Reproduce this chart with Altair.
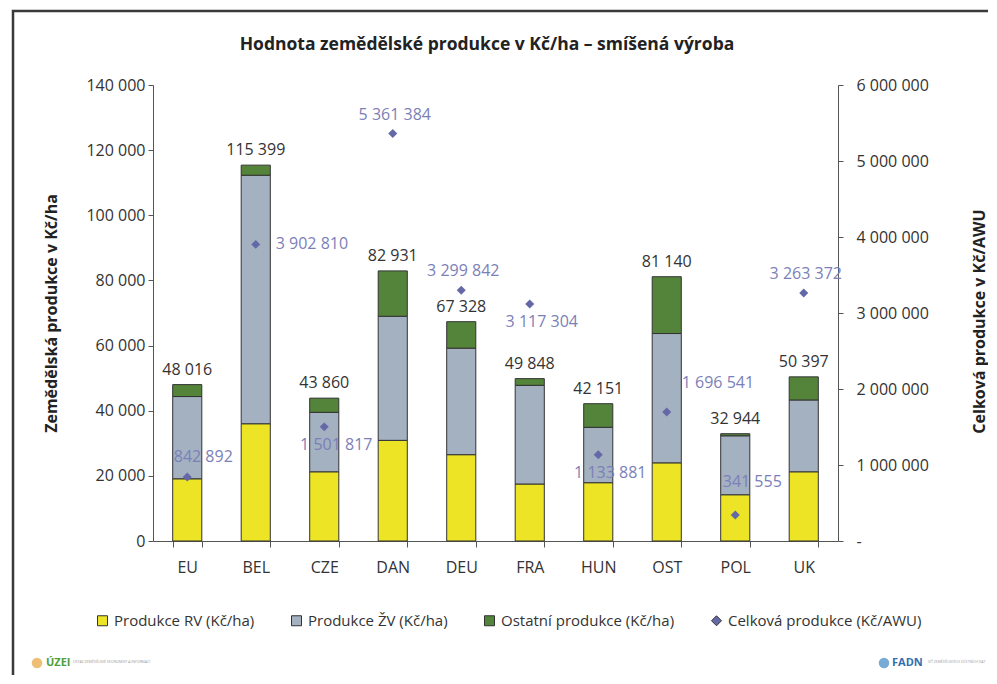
import altair as alt
import pandas as pd

# ---- data ----
countries = ["EU", "BEL", "CZE", "DAN", "DEU", "FRA", "HUN", "OST", "POL", "UK"]
prod_rv = [19100, 36000, 21250, 30900, 26500, 17500, 17900, 24000, 14200, 21250]
prod_zv = [25250, 76300, 18250, 38100, 32700, 30300, 17000, 39700, 18100, 22050]
prod_other = [3666, 3099, 4360, 13931, 8128, 2048, 7251, 17440, 644, 7097]
totals = [48016, 115399, 43860, 82931, 67328, 49848, 42151, 81140, 32944, 50397]
awu_total = [842892, 3902810, 1501817, 5361384, 3299842, 3117304, 1133881, 1696541, 341555, 3263372]
label_place = ["aboveright", "right", "below", "above", "above", "below", "below", "upright", "highright", "above"]

series_names = ["Produkce RV (Kč/ha)", "Produkce ŽV (Kč/ha)", "Ostatní produkce (Kč/ha)", "Celková produkce (Kč/AWU)"]
series_colors = ["#ECE424", "#A3B1C1", "#53843A", "#6468A6"]
series_shapes = ["square", "square", "square", "diamond"]
title_text = "Hodnota zemědělské produkce v Kč/ha – smíšená výroba"

# ---- tables ----
rows = []
for i, c in enumerate(countries):
    for k, vals in enumerate([prod_rv, prod_zv, prod_other]):
        rows.append({"country": c, "series": series_names[k], "value": vals[i], "order": k})
bar_df = pd.DataFrame(rows)
tot_df = pd.DataFrame({"country": countries, "total": totals})
pt_df = pd.DataFrame({"country": countries, "awu": awu_total, "place": label_place,
                      "series": [series_names[3]] * len(countries)})

W, H = 685, 456
FONT = "Open Sans"

x_enc = alt.X("country:N", sort=countries,
              scale=alt.Scale(paddingInner=0.575, paddingOuter=0.2875),
              axis=alt.Axis(title=None, labelAngle=0, tickBand="extent", tickSize=6,
                            labelPadding=12, labelFontSize=16, labelColor="#333",
                            domainColor="#555", tickColor="#555"))

color_scale = alt.Scale(domain=series_names, range=series_colors)
shape_scale = alt.Scale(domain=series_names, range=series_shapes)
legend = alt.Legend(orient="none", legendX=-58, legendY=528, direction="horizontal",
                    columns=4, title=None, labelFontSize=15, labelColor="#333",
                    labelFont=FONT, symbolSize=100, symbolStrokeColor="#333",
                    symbolStrokeWidth=1, columnPadding=34, labelOffset=4, labelLimit=300)

left_scale = alt.Scale(domain=[0, 140000], nice=False)
right_scale = alt.Scale(domain=[0, 6000000], nice=False)

bars = alt.Chart(bar_df).mark_bar(stroke="#333", strokeWidth=1).encode(
    x=x_enc,
    y=alt.Y("value:Q", stack="zero", scale=left_scale,
            axis=alt.Axis(values=list(range(0, 140001, 20000)), format=",d", tickSize=5,
                          labelFontSize=16, labelColor="#333", labelPadding=3, grid=False,
                          domainColor="#555", tickColor="#555",
                          title="Zemědělská produkce v Kč/ha", titleFontSize=16,
                          titleFontWeight="bold", titleColor="#222", titleX=-102, titleY=H / 2,
                          titleAngle=270, titleAlign="center", titleBaseline="middle")),
    color=alt.Color("series:N", scale=color_scale, legend=legend),
    order=alt.Order("order:Q"),
)

tot_text = alt.Chart(tot_df).mark_text(baseline="bottom", dy=-7, fontSize=16, color="#333").encode(
    x=alt.X("country:N", sort=countries),
    y=alt.Y("total:Q", scale=left_scale),
    text=alt.Text("total:Q", format=",d"),
)

one = pd.DataFrame({"a": [0]})
frame = alt.Chart(one).mark_rect(fill="transparent", stroke="#3a3a3a", strokeWidth=2.5).encode(
    x=alt.value(-140), x2=alt.value(1000), y=alt.value(-74), y2=alt.value(900))

title_mark = alt.Chart(one).mark_text(text=title_text, fontSize=17.5, fontWeight="bold", color="#222",
                                      align="center", baseline="alphabetic").encode(
    x=alt.value(334), y=alt.value(-35))

LOGO_Y = 578
uzei_dot = alt.Chart(one).mark_point(filled=True, size=110, color="#E8A33B", shape="circle").encode(
    x=alt.value(-116), y=alt.value(LOGO_Y))
uzei_txt = alt.Chart(one).mark_text(text="ÚZEI", fontSize=11, fontWeight="bold", color="#4F9E3A",
                                    align="left", baseline="middle").encode(x=alt.value(-107), y=alt.value(LOGO_Y))
uzei_sub = alt.Chart(one).mark_text(text="ÚSTAV ZEMĚDĚLSKÉ EKONOMIKY A INFORMACÍ", fontSize=3.5, color="#999",
                                    align="left", baseline="middle").encode(x=alt.value(-80), y=alt.value(LOGO_Y - 1))
fadn_dot = alt.Chart(one).mark_point(filled=True, size=110, color="#3F86C4", shape="circle").encode(
    x=alt.value(731), y=alt.value(LOGO_Y))
fadn_txt = alt.Chart(one).mark_text(text="FADN", fontSize=11, fontWeight="bold", color="#2F6FB0",
                                    align="left", baseline="middle").encode(x=alt.value(739), y=alt.value(LOGO_Y))
fadn_sub = alt.Chart(one).mark_text(text="SÍŤ ZEMĚDĚLSKÝCH ÚČETNÍCH DAT", fontSize=3.5, color="#999",
                                    align="left", baseline="middle").encode(x=alt.value(775), y=alt.value(LOGO_Y - 1))

left = alt.layer(frame, title_mark, bars, tot_text, uzei_dot, uzei_txt, uzei_sub, fadn_dot, fadn_txt, fadn_sub)

points = alt.Chart(pt_df).mark_point(filled=True, size=80, opacity=1).encode(
    x=alt.X("country:N", sort=countries),
    y=alt.Y("awu:Q", scale=right_scale,
            axis=alt.Axis(orient="right", values=list(range(0, 6000001, 1000000)), format=",d",
                          labelExpr="datum.value == 0 ? '-' : datum.label",
                          tickSize=5, labelFontSize=16, labelColor="#333", labelPadding=13,
                          labelAlign="left", grid=False, domainColor="#555", tickColor="#555",
                          title="Celková produkce v Kč/AWU", titleFontSize=16, titleFontWeight="bold",
                          titleColor="#222", titleX=141, titleY=H / 2 + 8, titleAngle=270,
                          titleAlign="center", titleBaseline="middle")),
    color=alt.Color("series:N", scale=color_scale, legend=legend),
    shape=alt.Shape("series:N", scale=shape_scale, legend=legend),
)

place_style = {
    "above": dict(align="center", dx=2, dy=-19),
    "aboveright": dict(align="center", dx=16, dy=-20),
    "highright": dict(align="center", dx=17, dy=-33),
    "below": dict(align="center", dx=12, dy=18),
    "right": dict(align="left", dx=20, dy=0),
    "upright": dict(align="left", dx=15, dy=-29),
}
label_layers = []
for p, st in place_style.items():
    label_layers.append(
        alt.Chart(pt_df).transform_filter(alt.datum.place == p).mark_text(
            baseline="middle", fontSize=16, color="#7C80B8", **st).encode(
            x=alt.X("country:N", sort=countries),
            y=alt.Y("awu:Q", scale=right_scale),
            text=alt.Text("awu:Q", format=",d"),
        )
    )

right = alt.layer(points, *label_layers)

chart = alt.layer(left, right).resolve_scale(y="independent").properties(
    width=W, height=H,
    autosize=alt.AutoSizeParams(type="none"),
    padding={"left": 145, "top": 77, "right": 150, "bottom": 134},
).configure(
    font=FONT,
    locale={"number": {"decimal": ",", "thousands": " ", "grouping": [3], "currency": ["", " Kč"]}},
).configure_view(strokeWidth=0)

chart.save("out.html", embed_options={"renderer": "svg", "actions": False})
